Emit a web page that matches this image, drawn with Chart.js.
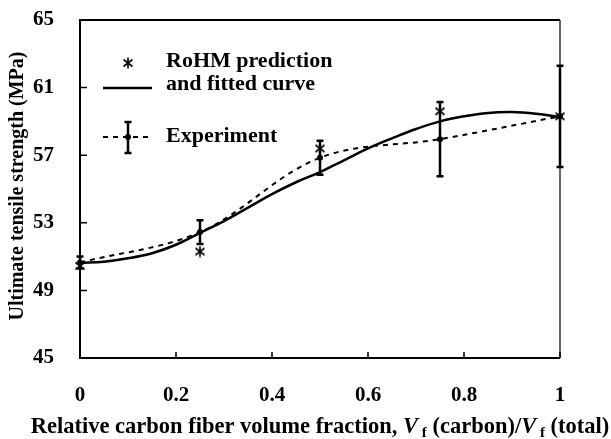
<!DOCTYPE html>
<html>
<head>
<meta charset="utf-8">
<script src="https://cdn.jsdelivr.net/npm/chart.js@4.4.1/dist/chart.umd.min.js"></script>
<style>
  html, body { margin: 0; padding: 0; background: #fff; }
</style>
</head>
<body>
<canvas id="strengthChart" width="611" height="439"></canvas>
<script>
// volume fraction positions of the tested hybrids
const xValues = [0, 0.25, 0.5, 0.75, 1];
const experiment = [50.65, 52.45, 56.85, 57.95, 59.3];
const experimentError = [0.35, 0.7, 1.0, 2.2, 3.0];
const rohmPrediction = [50.45, 51.3, 57.4, 59.6, 59.3];

// fitted curve
const fitX = [0, 0.05, 0.1, 0.15, 0.2, 0.25, 0.3, 0.35, 0.4, 0.45, 0.5,
              0.55, 0.6, 0.65, 0.7, 0.75, 0.8, 0.85, 0.9, 0.95, 1];
const fitY = [50.62, 50.7, 50.9, 51.2, 51.7, 52.4, 53.1, 53.9, 54.7, 55.4, 56.0,
              56.7, 57.4, 58.0, 58.55, 59.0, 59.3, 59.5, 59.55, 59.45, 59.25];

const xTicks = [0, 0.2, 0.4, 0.6, 0.8, 1];
const yTicks = [45, 49, 53, 57, 61, 65];

const SERIF = '"Liberation Serif", "Times New Roman", serif';

// six-spoke asterisk used for the RoHM markers
function makeAsterisk() {
    const c = document.createElement('canvas');
    c.width = 12;
    c.height = 12;
    const g = c.getContext('2d');
    g.strokeStyle = '#000';
    g.lineWidth = 1.6;
    g.beginPath();
    g.moveTo(6, 0.5); g.lineTo(6, 11.5);
    g.moveTo(1.5, 2.5); g.lineTo(10.5, 9.5);
    g.moveTo(1.5, 9.5); g.lineTo(10.5, 2.5);
    g.stroke();
    return c;
}
const asterisk = makeAsterisk();

function drawErrorBar(ctx, x, yTop, yBottom, cap) {
    ctx.beginPath();
    ctx.moveTo(x, yTop); ctx.lineTo(x, yBottom);
    ctx.moveTo(x - cap, yTop); ctx.lineTo(x + cap, yTop);
    ctx.moveTo(x - cap, yBottom); ctx.lineTo(x + cap, yBottom);
    ctx.stroke();
}

const decorations = {
    id: 'decorations',
    afterDatasetsDraw(chart) {
        const { ctx, chartArea: a, scales: { x, y } } = chart;
        ctx.save();
        ctx.strokeStyle = '#000';

        // error bars on the experiment points
        ctx.lineWidth = 2.5;
        xValues.forEach((v, i) => {
            const px = x.getPixelForValue(v);
            drawErrorBar(ctx, px,
                y.getPixelForValue(experiment[i] + experimentError[i]),
                y.getPixelForValue(experiment[i] - experimentError[i]), 3.5);
        });

        // frame
        ctx.lineWidth = 2;
        ctx.beginPath();
        ctx.moveTo(a.right, a.top); ctx.lineTo(a.left, a.top);
        ctx.lineTo(a.left, a.bottom); ctx.lineTo(a.right, a.bottom);
        ctx.stroke();
        ctx.lineWidth = 1.2;
        ctx.beginPath();
        ctx.moveTo(a.right, a.top); ctx.lineTo(a.right, a.bottom);
        ctx.stroke();

        // inward tick marks
        ctx.lineWidth = 1.5;
        ctx.beginPath();
        yTicks.forEach(v => {
            const py = y.getPixelForValue(v);
            ctx.moveTo(a.left, py); ctx.lineTo(a.left + 7, py);
        });
        xTicks.forEach(v => {
            const px = x.getPixelForValue(v);
            ctx.moveTo(px, a.bottom); ctx.lineTo(px, a.bottom - 6);
        });
        ctx.stroke();
        ctx.restore();
    },
    afterDraw(chart) {
        const { ctx, chartArea: a } = chart;
        ctx.save();
        ctx.fillStyle = '#000';
        ctx.strokeStyle = '#000';

        // y axis title
        ctx.save();
        ctx.translate(18, (a.top + a.bottom) / 2 - 3);
        ctx.rotate(-Math.PI / 2);
        ctx.font = 'bold 20px ' + SERIF;
        ctx.textAlign = 'center';
        ctx.textBaseline = 'middle';
        ctx.fillText('Ultimate tensile strength (MPa)', 0, 0);
        ctx.restore();

        // x axis title with subscripts
        const runs = [
            { t: 'Relative carbon fiber volume fraction, ', f: 'bold 22.5px ' },
            { t: 'V', f: 'italic bold 22.5px ' },
            { t: ' f', f: 'bold 15px ', dy: 4 },
            { t: ' (carbon)/', f: 'bold 22.5px ' },
            { t: 'V', f: 'italic bold 22.5px ' },
            { t: ' f', f: 'bold 15px ', dy: 4 },
            { t: ' (total)', f: 'bold 22.5px ' }
        ];
        let total = 0;
        runs.forEach(r => {
            ctx.font = r.f + SERIF;
            r.w = ctx.measureText(r.t).width;
            total += r.w;
        });
        let tx = (a.left + a.right) / 2 - total / 2;
        ctx.textBaseline = 'alphabetic';
        ctx.textAlign = 'left';
        runs.forEach(r => {
            ctx.font = r.f + SERIF;
            ctx.fillText(r.t, tx, 433 + (r.dy || 0));
            tx += r.w;
        });

        // legend
        ctx.font = 'bold 22px ' + SERIF;
        ctx.drawImage(asterisk, 128 - 6, 63 - 6);
        ctx.lineWidth = 2.5;
        ctx.beginPath();
        ctx.moveTo(103, 88); ctx.lineTo(152, 88);
        ctx.stroke();
        ctx.fillText('RoHM prediction', 166, 67);
        ctx.fillText('and fitted curve', 166, 90);

        ctx.lineWidth = 2;
        ctx.setLineDash([5, 5]);
        ctx.beginPath();
        ctx.moveTo(103, 137); ctx.lineTo(148, 137);
        ctx.stroke();
        ctx.setLineDash([]);
        ctx.lineWidth = 2.5;
        drawErrorBar(ctx, 128, 122, 153, 3.5);
        ctx.beginPath();
        ctx.arc(128, 137, 3, 0, Math.PI * 2);
        ctx.fill();
        ctx.fillText('Experiment', 166, 142);
        ctx.restore();
    }
};

new Chart(document.getElementById('strengthChart'), {
    type: 'scatter',
    data: {
        datasets: [
            {
                label: 'Fitted curve',
                data: fitX.map((v, i) => ({ x: v, y: fitY[i] })),
                showLine: true,
                borderColor: '#000',
                borderWidth: 2.5,
                pointRadius: 0,
                tension: 0.4,
                clip: false
            },
            {
                label: 'Experiment',
                data: xValues.map((v, i) => ({ x: v, y: experiment[i] })),
                showLine: true,
                borderColor: '#000',
                borderWidth: 2,
                borderDash: [5, 5],
                pointRadius: 3,
                pointBorderWidth: 0,
                pointBackgroundColor: '#000',
                tension: 0.35,
                clip: false
            },
            {
                label: 'RoHM prediction',
                data: xValues.map((v, i) => ({ x: v, y: rohmPrediction[i] })),
                showLine: false,
                pointStyle: asterisk,
                clip: false
            }
        ]
    },
    options: {
        responsive: false,
        animation: false,
        devicePixelRatio: 1,
        layout: { padding: { top: 20, right: 51, left: 0, bottom: 0 } },
        plugins: {
            legend: { display: false },
            tooltip: { enabled: false }
        },
        scales: {
            x: {
                type: 'linear',
                min: 0,
                max: 1,
                afterBuildTicks: s => { s.ticks = xTicks.map(v => ({ value: v })); },
                afterFit: s => {
                    s.height = 81;
                    s.paddingLeft = 0;
                    s.paddingRight = 0;
                },
                grid: { display: false },
                border: { display: false },
                ticks: {
                    color: '#000',
                    padding: 17,
                    maxRotation: 0,
                    font: { family: SERIF, size: 21, weight: 'bold' },
                    callback: v => String(v)
                }
            },
            y: {
                min: 45,
                max: 65,
                afterBuildTicks: s => { s.ticks = yTicks.map(v => ({ value: v })); },
                afterFit: s => {
                    s.width = 80;
                    s.paddingTop = 0;
                    s.paddingBottom = 0;
                },
                grid: { display: false },
                border: { display: false },
                ticks: {
                    color: '#000',
                    padding: 18,
                    font: { family: SERIF, size: 21, weight: 'bold' },
                    callback: v => String(v)
                }
            }
        }
    },
    plugins: [decorations]
});
</script>
</body>
</html>
